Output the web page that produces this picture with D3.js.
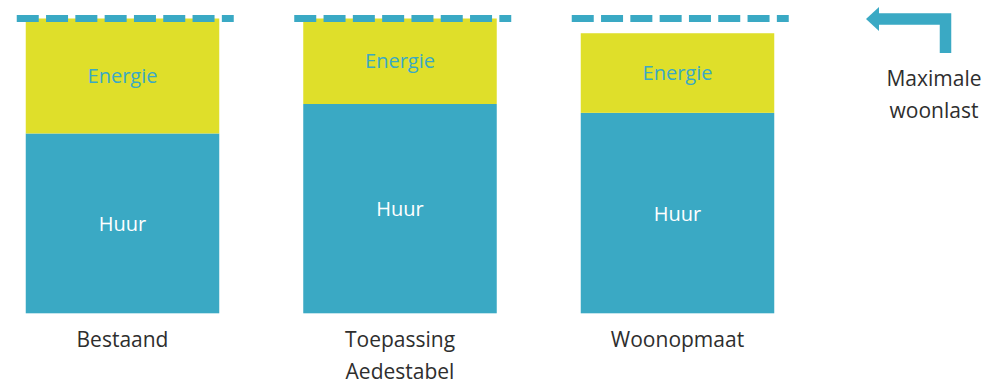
<!DOCTYPE html>
<html>
<head>
<meta charset="utf-8">
<script src="https://cdn.jsdelivr.net/npm/d3@7"></script>
<style>
  html, body { margin: 0; padding: 0; background: #fff; }
  svg { display: block; }
</style>
</head>
<body>
<svg id="chart" width="993" height="385"></svg>
<script>
// ---- data ----
const categories = ["Bestaand", "Toepassing\nAedestabel", "Woonopmaat"];
const huur = [61, 71, 68];
const energie = [39, 29, 27];
const maxWoonlast = 100;
const segmentLabels = ["Huur", "Energie"];
const annotationLines = ["Maximale", "woonlast"];

// ---- style ----
const teal = "#3aa9c4";
const yellow = "#dfdf2a";
const labelColor = "#2e2e2e";
const font = "'Open Sans', sans-serif";

const svg = d3.select("#chart");

const x = d3.scaleBand()
  .domain(categories)
  .range([25.75, 774.25])
  .paddingInner(0.3027)
  .paddingOuter(0);

const y = d3.scaleLinear()
  .domain([0, maxWoonlast])
  .range([313.3, 18.5]);

const data = categories.map((c, i) => ({ cat: c, huur: huur[i], energie: energie[i] }));

// Huur segments
svg.selectAll("rect.huur").data(data).join("rect")
  .attr("class", "huur")
  .attr("x", d => x(d.cat))
  .attr("width", x.bandwidth())
  .attr("y", d => y(d.huur))
  .attr("height", d => y(0) - y(d.huur))
  .attr("fill", teal);

// Energie segments
svg.selectAll("rect.energie").data(data).join("rect")
  .attr("class", "energie")
  .attr("x", d => x(d.cat))
  .attr("width", x.bandwidth())
  .attr("y", d => y(d.huur + d.energie))
  .attr("height", d => y(d.huur) - y(d.huur + d.energie))
  .attr("fill", yellow);

// Dashed max lines
svg.selectAll("line.max").data(data).join("line")
  .attr("class", "max")
  .attr("x1", d => x(d.cat) - 9)
  .attr("x2", d => x(d.cat) - 9 + 217)
  .attr("y1", y(maxWoonlast))
  .attr("y2", y(maxWoonlast))
  .attr("stroke", teal)
  .attr("stroke-width", 7)
  .attr("stroke-dasharray", "22 7.3");

// Segment labels
svg.selectAll("text.huurLabel").data(data).join("text")
  .attr("class", "huurLabel")
  .attr("x", d => x(d.cat) + x.bandwidth() / 2)
  .attr("y", d => (y(0) + y(d.huur)) / 2)
  .attr("dy", "0.38em")
  .attr("text-anchor", "middle")
  .attr("font-family", font)
  .attr("font-size", 20)
  .attr("fill", "#ffffff")
  .text(segmentLabels[0]);

svg.selectAll("text.energieLabel").data(data).join("text")
  .attr("class", "energieLabel")
  .attr("x", d => x(d.cat) + x.bandwidth() / 2)
  .attr("y", d => (y(d.huur) + y(d.huur + d.energie)) / 2)
  .attr("dy", "0.36em")
  .attr("text-anchor", "middle")
  .attr("font-family", font)
  .attr("font-size", 20)
  .attr("fill", teal)
  .text(segmentLabels[1]);

// Category labels
const catText = svg.selectAll("text.cat").data(data).join("text")
  .attr("class", "cat")
  .attr("x", d => x(d.cat) + x.bandwidth() / 2)
  .attr("y", 347)
  .attr("text-anchor", "middle")
  .attr("font-family", font)
  .attr("font-size", 21)
  .attr("fill", labelColor);

catText.selectAll("tspan").data(d => d.cat.split("\n").map(t => ({ t, cx: x(d.cat) + x.bandwidth() / 2 })))
  .join("tspan")
  .attr("x", d => d.cx)
  .attr("dy", (d, i) => i === 0 ? 0 : 32)
  .text(d => d.t);

// Arrow annotation
svg.append("path")
  .attr("d", "M945.5,53 L945.5,19 L876,19")
  .attr("fill", "none")
  .attr("stroke", teal)
  .attr("stroke-width", 11.5)
  .attr("stroke-linejoin", "miter");

svg.append("path")
  .attr("d", "M866,19 L879,7 L879,31 Z")
  .attr("fill", teal);

const ann = svg.append("text")
  .attr("x", 934)
  .attr("y", 86)
  .attr("text-anchor", "middle")
  .attr("font-family", font)
  .attr("font-size", 21)
  .attr("fill", labelColor);

ann.selectAll("tspan").data(annotationLines).join("tspan")
  .attr("x", 934)
  .attr("dy", (d, i) => i === 0 ? 0 : 32)
  .text(d => d);
</script>
</body>
</html>
